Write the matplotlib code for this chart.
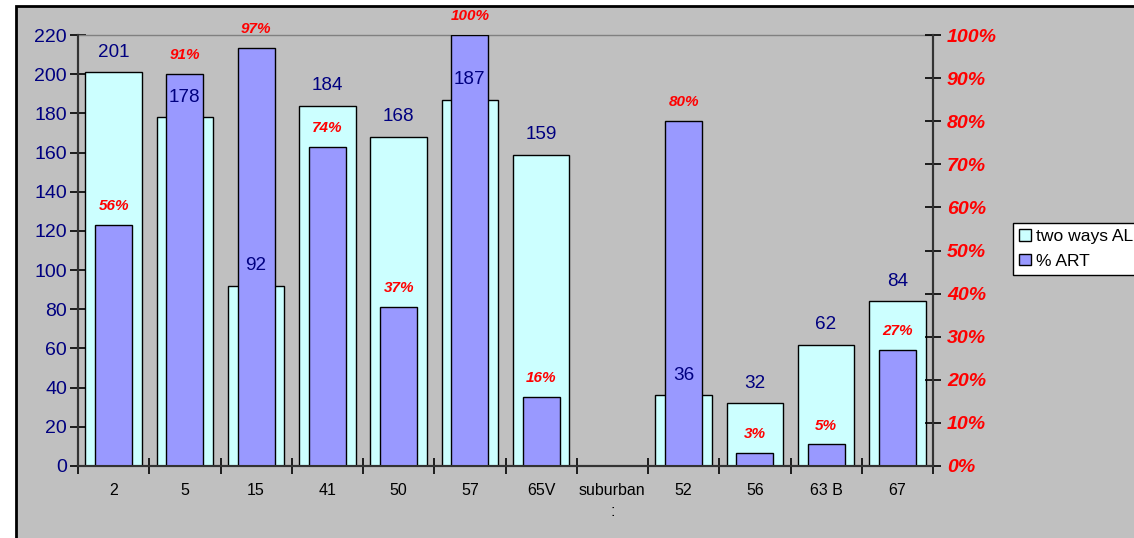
import numpy as np
import matplotlib
matplotlib.use("Agg")
import matplotlib.pyplot as plt
from matplotlib.patches import Rectangle, Patch

plt.rcParams['font.family'] = ['Liberation Sans', 'DejaVu Sans']

# route names and values
routes = ["2", "5", "15", "41", "50", "57", "65V", "suburban\n:", "52", "56", "63 B", "67"]
two_ways_all = [201, 178, 92, 184, 168, 187, 159, np.nan, 36, 32, 62, 84]
pct_art = [0.56, 0.91, 0.97, 0.74, 0.37, 1.00, 0.16, np.nan, 0.80, 0.03, 0.05, 0.27]

navy = "#000080"
cyan = "#CCFFFF"
violet = "#9999FF"

fig = plt.figure(figsize=(11.34, 5.38), dpi=100)
fig.patch.set_facecolor("white")
# grey chart area with black frame
fig.patches.append(Rectangle((16 / 1134, -0.1), 1.2, 1 - 6 / 538 + 0.1,
                             transform=fig.transFigure, facecolor="#C0C0C0",
                             edgecolor="black", linewidth=2, zorder=-10))

ax = fig.add_axes([78 / 1134, 1 - 466 / 538, (933 - 78) / 1134, (466 - 35) / 538])
ax2 = ax.twinx()
ax.set_facecolor("none")
ax2.set_facecolor("none")

x = np.arange(len(routes)) + 0.5

# two ways ALL bars (wide) on left axis
bars1 = ax.bar(x, two_ways_all, width=0.79, color=cyan, edgecolor="black",
               linewidth=1, label="two ways ALL")
# % ART bars (narrow) on right axis
bars2 = ax2.bar(x, pct_art, width=0.52, color=violet, edgecolor="black",
                linewidth=1, label="% ART")

ax.set_xlim(0, len(routes))
ax.set_ylim(0, 220)
ax2.set_ylim(0, 1.0)

for xi, v in zip(x, two_ways_all):
    if np.isnan(v):
        continue
    ax2.annotate(f"{v:g}", xy=(xi, v / 220), xytext=(0, 14.5), textcoords="offset points",
                 ha="center", va="center", fontsize=13.6, color=navy, zorder=10)

for xi, p in zip(x, pct_art):
    if np.isnan(p):
        continue
    ax2.annotate(f"{p * 100:.0f}%", xy=(xi, p), xytext=(0, 13.5), textcoords="offset points",
                 ha="center", va="center", fontsize=11, color="red",
                 fontweight="bold", fontstyle="italic", zorder=10)

# left axis
ax.set_yticks(np.arange(0, 221, 20))
ax.tick_params(axis="y", direction="inout", length=12, width=1.2, labelsize=14,
               labelcolor=navy, pad=2)
# category ticks at boundaries, labels at centres
ax.set_xticks(x)
ax.set_xticklabels(routes, color="black", linespacing=1.55)
ax.set_xticks(np.arange(0, len(routes) + 1), minor=True)
ax.tick_params(axis="x", which="major", length=0, pad=12, labelsize=11.5)
ax.tick_params(axis="x", which="minor", direction="inout", length=12, width=1.2)

# right axis
ax2.set_yticks(np.arange(0, 1.01, 0.1))
ax2.set_yticklabels([f"{t}%" for t in range(0, 101, 10)])
ax2.tick_params(axis="y", direction="inout", length=12, width=1.2, labelsize=14,
                labelcolor="red", pad=4)
for lbl in ax2.get_yticklabels():
    lbl.set_fontweight("bold")
    lbl.set_fontstyle("italic")

for a in (ax, ax2):
    for s in ("left", "right", "bottom"):
        a.spines[s].set_color("#333333")
        a.spines[s].set_linewidth(1.5)
ax.spines["top"].set_color("#808080")
ax.spines["top"].set_linewidth(1)
ax2.spines["top"].set_visible(False)

handles = [Patch(facecolor=cyan, edgecolor="black", linewidth=1),
           Patch(facecolor=violet, edgecolor="black", linewidth=1)]
leg = fig.legend(handles, ["two ways ALL", "% ART"], loc="upper left",
                 bbox_to_anchor=(1013 / 1134, 1 - 223 / 538), fontsize=12.6,
                 frameon=True, fancybox=False, framealpha=1, edgecolor="black",
                 handlelength=0.65, handleheight=0.65, handletextpad=0.3,
                 borderpad=0.35, labelspacing=0.55, borderaxespad=0)
leg.get_frame().set_linewidth(1)

fig.savefig("out.png", dpi=100)
